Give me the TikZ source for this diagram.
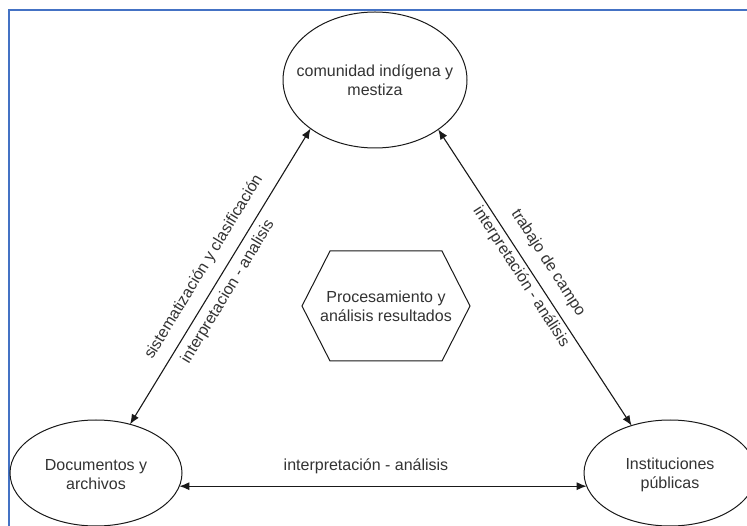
\documentclass[tikz,border=0pt]{standalone}
\usepackage{fontspec}
\setmainfont{Liberation Sans}
\usetikzlibrary{shapes.geometric,arrows.meta}
\definecolor{frameblue}{HTML}{4472C4}
\definecolor{txt}{HTML}{333333}
\tikzset{
  ell/.style={draw=black!90, line width=1pt, ellipse, inner sep=0pt, outer sep=0pt},
  lbl/.style={font=\fontsize{16}{19}\selectfont, text=txt, align=center, inner sep=0pt},
  conn/.style={draw=black!90, line width=1.1pt, {Latex[length=10pt,width=8pt]}-{Latex[length=10pt,width=8pt]}},
  hexline/.style={draw=black!90, line width=1pt}
}
\begin{document}
\begin{tikzpicture}[x=1pt,y=-1pt]
\useasboundingbox (0,0) rectangle (747,526);
\fill[white] (0,0) rectangle (747,526);
% blue frame
\draw[frameblue, line width=2pt] (9,526) -- (9,10.3) -- (747,10.3);
% ellipses
\node[ell, minimum width=184pt, minimum height=136pt] (top) at (375,80) {};
\node[lbl] (toptext) at (top.center) {comunidad indígena y\\mestiza};
\node[ell, minimum width=172pt, minimum height=106pt] (bl) at (96,473) {};
\node[lbl] (bltext) at (96,475) {Documentos y\\archivos};
\node[ell, minimum width=172pt, minimum height=106pt] (br) at (670,473) {};
\node[lbl] (brtext) at (670,475) {Instituciones\\públicas};
% hexagon
\node[lbl] (hex) at (386,306) {Procesamiento y\\análisis resultados};
\draw[hexline] (hex.center) ++(-84,0) -- ++(28,-55) -- ++(112,0) -- ++(28,55)
  -- ++(-28,55) -- ++(-112,0) -- cycle;
% connectors
\draw[conn] (bl.55) -- (top.217);
\draw[conn] (top.322) -- (br.129);
\draw[conn] (bl.351) -- (br.189);
% labels
\node[lbl, rotate=58.7] (l1) at (204,267) {sistematización y clasificación};
\node[lbl, rotate=58.7] (l2) at (228,292) {interpretacion - analisis};
\node[lbl, rotate=-57.2] (r1) at (548,263) {trabajo de campo};
\node[lbl, rotate=-57.2] (r2) at (521,277) {interpretación - análisis};
\node[lbl] (b1) at (366,466) {interpretación - análisis};
\end{tikzpicture}
\end{document}
